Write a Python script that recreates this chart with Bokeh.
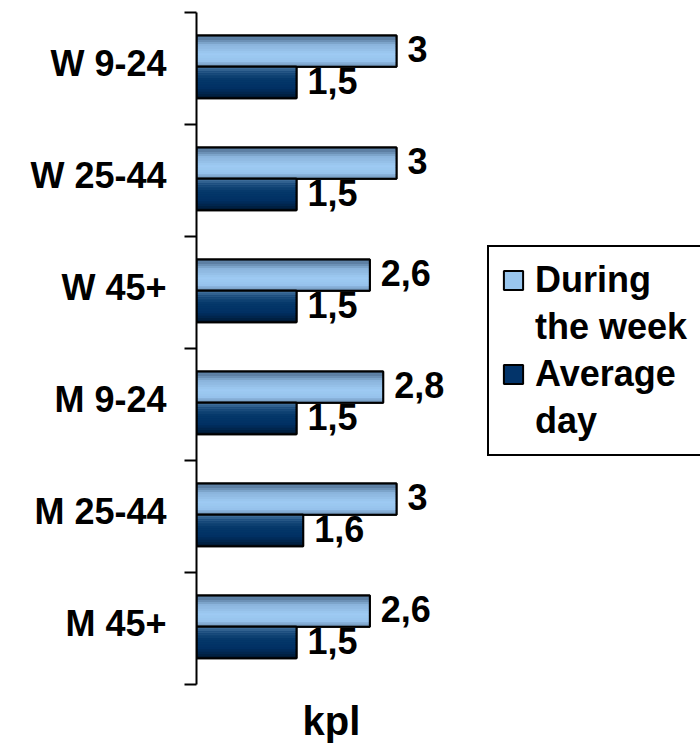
from bokeh.plotting import figure
from bokeh.models import (Range1d, FixedTicker, ColumnDataSource, LabelSet, Label, Legend, LegendItem)
from bokeh.core.properties import value
from bokeh.embed import file_html
from bokeh.resources import INLINE
import numpy as np

categories = ["W 9-24", "W 25-44", "W 45+", "M 9-24", "M 25-44", "M 45+"]
during_week = [3.0, 3.0, 2.6, 2.8, 3.0, 2.6]
average_day = [1.5, 1.5, 1.5, 1.5, 1.6, 1.5]
value_labels_week = ["3", "3", "2,6", "2,8", "3", "2,6"]
value_labels_day = ["1,5", "1,5", "1,5", "1,5", "1,6", "1,5"]
series_lines = [["During", "the week"], ["Average", "day"]]
axis_title = "kpl"

FONT = "Liberation Sans"
PX = 200 / 3.0   # pixels per x unit
PY = 112.0       # pixels per category band
n = len(categories)
centers = np.array([n - 0.5 - i for i in range(n)])
BH = 0.28
OFF = 0.015
light_c = centers + OFF + BH / 2
dark_c = centers + OFF - BH / 2

W, H = 700, 743
LEFT, TOP = 196, 12
AXIS_BOTTOM_PX = 684
y_start = -(H - AXIS_BOTTOM_PX) / PY
p = figure(width=W, height=H, output_backend="svg", toolbar_location=None,
           x_range=Range1d(0, (W - LEFT) / PX), y_range=Range1d(y_start, n),
           min_border_left=LEFT, min_border_right=0, min_border_top=TOP, min_border_bottom=0)
p.outline_line_color = None
p.grid.visible = False
p.xaxis.visible = False

def lerp_colors(stops, k):
    pos = np.array([s[0] for s in stops])
    rgb = np.array([[int(s[1][i:i + 2], 16) for i in (1, 3, 5)] for s in stops], dtype=float)
    out = []
    for t in np.linspace(0, 1, k):
        c = [np.interp(t, pos, rgb[:, j]) for j in range(3)]
        out.append("#%02x%02x%02x" % tuple(int(round(v)) for v in c))
    return out

light_stops = [(0.0, "#4d6d8f"), (0.3, "#8ab4dc"), (0.6, "#9ecbf3"), (0.85, "#96c2ec"), (1.0, "#7397bc")]
dark_stops = [(0.0, "#3d6c99"), (0.35, "#063a6c"), (0.7, "#013063"), (1.0, "#001a36")]
K = 14

def draw_bar(values, ycent, stops, base_color):
    vals = np.array(values)
    base = p.hbar(y=ycent, right=vals, left=0, height=BH, fill_color=base_color,
                  line_color="black", line_width=2)
    cols = lerp_colors(stops, K)
    sh = BH / K
    for k, col in enumerate(cols):
        yk = ycent + BH / 2 - sh * (k + 0.5)
        p.hbar(y=yk, right=vals, left=0, height=sh * 1.05, fill_color=col, line_color=None)
    p.hbar(y=ycent, right=vals, left=0, height=BH, fill_color=None,
           line_color="black", line_width=2)
    return base

r1 = draw_bar(during_week, light_c, light_stops, "#99c6ee")
r2 = draw_bar(average_day, dark_c, dark_stops, "#03346a")
blank = p.hbar(y=[], right=[], left=0, height=BH, fill_alpha=0, line_alpha=0)

src = ColumnDataSource(dict(x=during_week + average_day,
                            y=list(light_c) + list(dark_c),
                            t=value_labels_week + value_labels_day))
p.add_layout(LabelSet(x="x", y="y", text="t", source=src, x_offset=11, y_offset=2,
                      text_align="left", text_baseline="middle",
                      text_font=value(FONT), text_font_style="bold", text_font_size="36px",
                      text_color="black"))

# y axis (line limited to the category bands)
LAB_SHIFT = 5 / PY
label_ticks = [float(c + LAB_SHIFT) for c in centers]
ya = p.yaxis[0]
ya.bounds = (0, n)
ya.ticker = FixedTicker(ticks=label_ticks, minor_ticks=list(range(n + 1)))
ya.major_label_overrides = {t: categories[i] for i, t in enumerate(label_ticks)}
ya.major_tick_out = 0
ya.major_tick_in = 0
ya.minor_tick_out = 12
ya.minor_tick_in = 0
ya.minor_tick_line_width = 2
ya.minor_tick_line_color = "black"
ya.axis_line_width = 2
ya.axis_line_color = "black"
ya.major_label_standoff = 18
ya.major_label_text_font = FONT
ya.major_label_text_font_style = "bold"
ya.major_label_text_font_size = "36px"
ya.major_label_text_color = "black"

# axis title below the bars
p.add_layout(Label(x=(331 - LEFT) / PX, y=-(720 - AXIS_BOTTOM_PX) / PY, text=axis_title,
                   text_align="center", text_baseline="middle",
                   text_font=FONT, text_font_style="bold", text_font_size="40px",
                   text_color="black"))

items = [LegendItem(label=series_lines[0][0], renderers=[r1]),
         LegendItem(label=series_lines[0][1], renderers=[blank]),
         LegendItem(label=series_lines[1][0], renderers=[r2]),
         LegendItem(label=series_lines[1][1], renderers=[blank])]
legend = Legend(items=items, location=(291, 287), orientation="vertical")
legend.margin = 0
legend.padding = 12
legend.spacing = 5
legend.glyph_width = 24
legend.glyph_height = 24
legend.label_standoff = 10
legend.label_height = 20
legend.label_width = 200
legend.label_text_font = FONT
legend.label_text_font_style = "bold"
legend.label_text_font_size = "36px"
legend.label_text_color = "black"
legend.border_line_color = "black"
legend.border_line_alpha = 1.0
legend.border_line_width = 2
legend.background_fill_color = "white"
legend.background_fill_alpha = 1
p.add_layout(legend, "center")

with open("out.html", "w") as f:
    f.write(file_html(p, INLINE))
